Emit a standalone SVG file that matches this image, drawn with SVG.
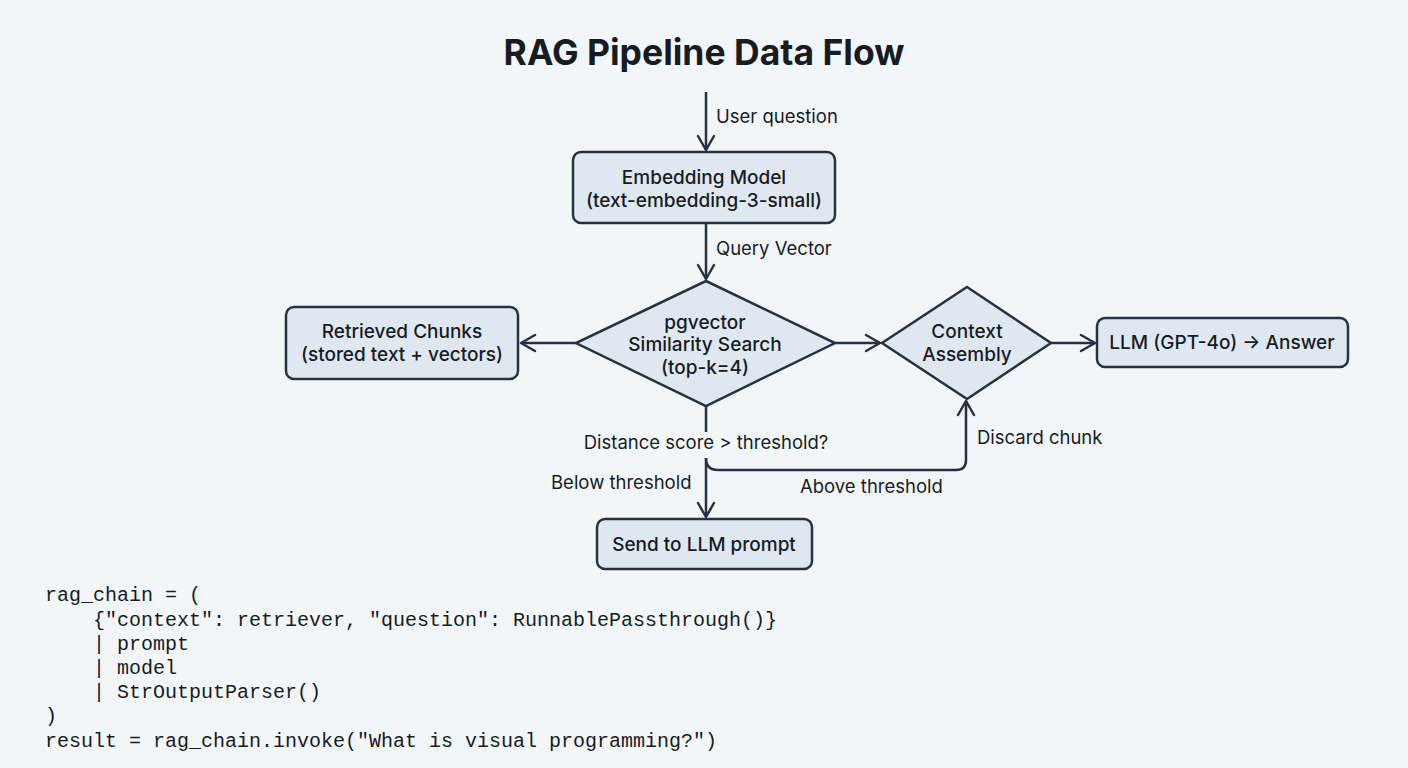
<svg xmlns="http://www.w3.org/2000/svg" width="1408" height="768" viewBox="0 0 1408 768">
<defs>
<style>
.node{fill:#dfe8f1;stroke:#263240;stroke-width:2.5}
.nt{font-family:Inter,"Liberation Sans",sans-serif;font-size:19px;font-weight:500;fill:#171c24;text-anchor:middle}
.lb{font-family:Inter,"Liberation Sans",sans-serif;font-size:18.5px;fill:#171c24}
.edge{fill:none;stroke:#263240;stroke-width:2.5}
.code{font-family:"Liberation Mono",monospace;font-size:20px;fill:#171c24;white-space:pre}
</style>
<marker id="ah" viewBox="0 0 20 20" refX="17" refY="10" markerWidth="20" markerHeight="20" markerUnits="userSpaceOnUse" orient="auto">
<path d="M3,2 L17,10 L3,18" fill="none" stroke="#263240" stroke-width="2.5" stroke-linecap="round" stroke-linejoin="round"/>
</marker>
</defs>
<rect width="1408" height="768" fill="#f2f6f9"/>
<text x="704" y="65" text-anchor="middle" font-family="Inter,'Liberation Sans',sans-serif" font-size="35.5" font-weight="700" fill="#171c24">RAG Pipeline Data Flow</text>

<g id="connectors">
<path class="edge" d="M706,92 V150" marker-end="url(#ah)"/>
<path class="edge" d="M706,223 V279" marker-end="url(#ah)"/>
<path class="edge" d="M576,343 H521" marker-end="url(#ah)"/>
<path class="edge" d="M835,343 H880" marker-end="url(#ah)"/>
<path class="edge" d="M1051,343 H1095" marker-end="url(#ah)"/>
<path class="edge" d="M706,406 V432"/>
<path class="edge" d="M706,458 V517" marker-end="url(#ah)"/>
<path class="edge" d="M706,458 Q706,470 718,470 H956 Q966,470 966,460 V401" marker-end="url(#ah)"/>
</g>

<g id="labels">
<text class="lb" x="716" y="123">User question</text>
<text class="lb" x="716" y="255">Query Vector</text>
<text class="lb" x="706" y="449" text-anchor="middle">Distance score &gt; threshold?</text>
<text class="lb" x="977" y="444">Discard chunk</text>
<text class="lb" x="800" y="493">Above threshold</text>
<text class="lb" x="551" y="489">Below threshold</text>
</g>

<g id="embedding">
<rect class="node" x="573" y="152" width="262" height="71" rx="8"/>
<text class="nt" x="704" y="184">Embedding Model</text>
<text class="nt" x="704" y="207">(text-embedding-3-small)</text>
</g>
<g id="pgvector">
<polygon class="node" points="706,281 835,343 706,406 576,343"/>
<text class="nt" x="705" y="329">pgvector</text>
<text class="nt" x="705" y="351">Similarity Search</text>
<text class="nt" x="705" y="374">(top-k=4)</text>
</g>
<g id="retrieved">
<rect class="node" x="286" y="307" width="232" height="72" rx="8"/>
<text class="nt" x="402" y="338">Retrieved Chunks</text>
<text class="nt" x="402" y="361">(stored text + vectors)</text>
</g>
<g id="context">
<polygon class="node" points="967,287 1051,343 967,399 882,343"/>
<text class="nt" x="967" y="338">Context</text>
<text class="nt" x="967" y="361">Assembly</text>
</g>
<g id="llm">
<rect class="node" x="1097" y="318" width="251" height="49" rx="8"/>
<text class="nt" x="1222" y="349">LLM (GPT-4o) → Answer</text>
</g>
<g id="send">
<rect class="node" x="597" y="519" width="215" height="50" rx="8"/>
<text class="nt" x="704" y="551">Send to LLM prompt</text>
</g>

<g id="code">
<text class="code" x="45" y="601">rag_chain = (</text>
<text class="code" x="45" y="626">    {"context": retriever, "question": RunnablePassthrough()}</text>
<text class="code" x="45" y="650">    | prompt</text>
<text class="code" x="45" y="674">    | model</text>
<text class="code" x="45" y="698">    | StrOutputParser()</text>
<text class="code" x="45" y="722">)</text>
<text class="code" x="45" y="747">result = rag_chain.invoke("What is visual programming?")</text>
</g>
</svg>
